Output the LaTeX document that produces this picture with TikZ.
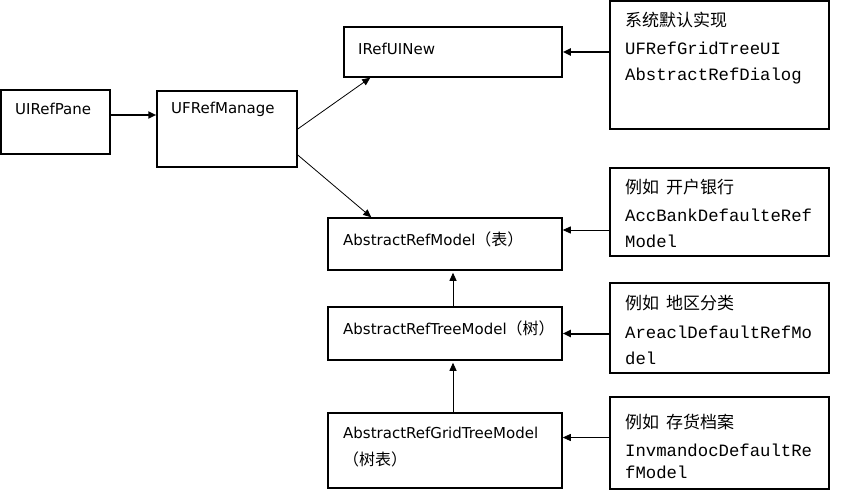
\documentclass[tikz,border=0pt]{standalone}
\usepackage{fontspec}
\setmainfont{DejaVu Sans}
\newfontfamily\cjk{Noto Sans CJK SC}
\newfontfamily\monof{Liberation Mono}
\usetikzlibrary{arrows.meta}
\newcommand{\cjl}[1]{{\cjk\fontsize{16}{18}\selectfont #1}}
\begin{document}
\begin{tikzpicture}[x=1pt,y=-1pt,
  box/.style={draw,rectangle,line width=1.5pt,inner sep=0pt},
  lbl/.style={anchor=west,inner sep=0pt,font=\fontsize{15}{17}\selectfont},
  mono/.style={anchor=west,inner sep=0pt,font=\monof\fontsize{17.3}{20}\selectfont},
  cj/.style={anchor=west,inner sep=0pt,font=\cjk\fontsize{17}{20}\selectfont},
  thinarrow/.style={line width=0.8pt,-{Triangle[length=8pt,width=7pt]}},
  thickarrow/.style={line width=2pt,-{Triangle[length=8pt,width=7pt]}}]
\fill[white] (0,0) rectangle (842,492);
\useasboundingbox (0,0) rectangle (842,492);

% boxes
\node[box,minimum width=109pt,minimum height=64pt] (pane) at (55.5,122) {};
\node[box,minimum width=140pt,minimum height=76pt] (manage) at (227,129) {};
\node[box,minimum width=218pt,minimum height=50pt] (uinew) at (453,52) {};
\node[box,minimum width=234pt,minimum height=52pt] (model) at (445,244) {};
\node[box,minimum width=234pt,minimum height=53pt] (tree) at (445,333.5) {};
\node[box,minimum width=234pt,minimum height=75pt] (grid) at (445,450.5) {};
\node[box,minimum width=219pt,minimum height=128pt] (exA) at (719.5,65) {};
\node[box,minimum width=219pt,minimum height=88pt] (exB) at (719.5,212) {};
\node[box,minimum width=219pt,minimum height=90pt] (exC) at (719.5,328) {};
\node[box,minimum width=219pt,minimum height=92pt] (exD) at (719.5,443) {};

% labels
\node[lbl] (tpane) at (15,109) {UIRefPane};
\node[lbl] (tmanage) at (171,109) {UFRefManage};
\node[lbl] (tuinew) at (358,49) {IRefUINew};
\node[lbl] (tmodel) at (343,239) {AbstractRefModel\cjl{（表）}};
\node[lbl] (ttree) at (343,328) {AbstractRefTreeModel\cjl{（树）}};
\node[lbl] (tgrid1) at (343,433) {AbstractRefGridTreeModel};
\node[lbl] (tgrid2) at (343,459) {\cjl{（树表）}};

\node[cj] (a1) at (625,20) {系统默认实现};
\node[mono] (a2) at (625,48) {UFRefGridTreeUI};
\node[mono] (a3) at (625,76) {AbstractRefDialog};

\node[cj] (b1) at (625,187) {例如\hspace{7pt}开户银行};
\node[mono] (b2) at (625,215) {AccBankDefaulteRef};
\node[mono] (b3) at (625,241) {Model};

\node[cj] (c1) at (625,303) {例如\hspace{7pt}地区分类};
\node[mono] (c2) at (625,332) {AreaclDefaultRefMo};
\node[mono] (c3) at (625,358) {del};

\node[cj] (d1) at (625,422) {例如\hspace{7pt}存货档案};
\node[mono] (d2) at (625,450) {InvmandocDefaultRe};
\node[mono] (d3) at (625,472) {fModel};

% connectors
\draw[thickarrow] ([yshift=7pt]pane.east) -- ([yshift=7pt]pane.east -| manage.west);
\draw[thinarrow] (manage.east) -- ([xshift=27pt]uinew.south west);
\draw[thinarrow] ([yshift=-26pt]manage.east) -- ([xshift=44pt]model.north west);
\draw[thickarrow] (exA.west |- uinew.east) -- (uinew.east);
\coordinate (mB) at ([yshift=14pt]model.east);
\draw[thinarrow] (exB.west |- mB) -- (mB);
\draw[thickarrow] (exC.west |- tree.east) -- (tree.east);
\coordinate (mD) at ([yshift=13pt]grid.east);
\draw[thinarrow] (exD.west |- mD) -- (mD);
\draw[thinarrow] ([xshift=8pt]tree.north) -- ([xshift=8pt,yshift=-2pt]model.south);
\draw[thinarrow] ([xshift=8pt]grid.north) -- ([xshift=8pt,yshift=-2pt]tree.south);
\end{tikzpicture}
\end{document}
